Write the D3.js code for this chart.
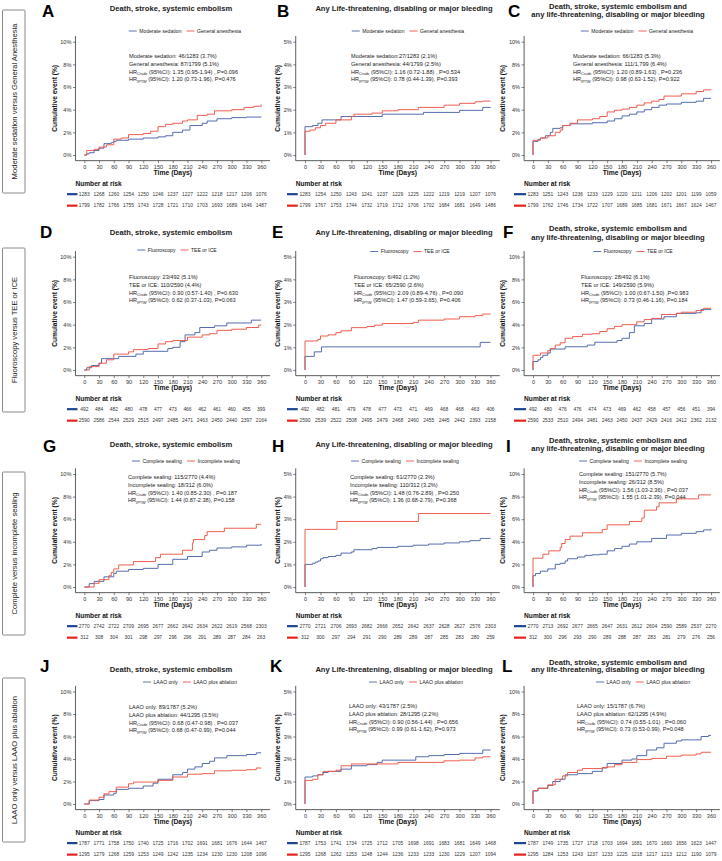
<!DOCTYPE html>
<html><head><meta charset="utf-8">
<script src="https://cdn.jsdelivr.net/npm/d3@7/dist/d3.min.js"></script>
<style>body{margin:0;background:#fff}svg{display:block;font-family:"Liberation Sans",Arial,sans-serif}</style>
</head><body><svg id="c" width="722" height="861"></svg>
<script>
// ---------- DATA ----------
const dayTicks = [0,30,60,90,120,150,180,210,240,270,300,330,360];
const yTicks10 = [0,2,4,6,8,10];
const yTicks5 = [0,1,2,3,4,5];
const rowLabels = ["Moderate sedation versus General Anesthesia","Fluoroscopy versus TEE or ICE","Complete versus incomplete sealing","LAAO only versus LAAO plus ablation"];
const panelLetters = ["A","B","C","D","E","F","G","H","I","J","K","L"];
const titleDeath = ["Death, stroke, systemic embolism"];
const titleBleed = ["Any Life-threatening, disabling or major bleeding"];
const titleComb = ["Death, stroke, systemic embolism and","any life-threatening, disabling or major bleeding"];
const groupNames = [["Moderate sedation","General anesthesia"],["Fluoroscopy","TEE or ICE"],["Complete sealing","Incomplete sealing"],["LAAO only","LAAO plus ablation"]];

const A_blue=[[0,0],[5,0.1],[10,0.2],[20,0.4],[30,0.6],[40,1.0],[55,1.1],[60,1.2],[65,1.3],[90,1.4],[120,1.5],[150,1.6],[165,1.7],[180,2.0],[200,2.2],[215,2.6],[240,2.8],[250,3.0],[270,3.2],[300,3.3],[330,3.35],[360,3.38]];
const A_red=[[0,0],[5,0.4],[20,0.5],[30,0.7],[45,0.9],[60,1.4],[75,1.5],[90,1.8],[120,1.9],[135,2.1],[150,2.5],[165,2.7],[180,2.8],[200,3.0],[210,3.1],[230,3.5],[250,3.6],[265,3.9],[300,4.0],[325,4.2],[345,4.3],[360,4.45]];
const B_blue=[[0,0],[0,1.25],[15,1.3],[25,1.4],[33,1.55],[70,1.7],[150,1.8],[230,1.88],[300,1.97],[345,2.1],[360,2.12]];
const B_red=[[0,0],[0,1.05],[10,1.1],[20,1.2],[30,1.3],[40,1.4],[60,1.55],[90,1.7],[95,1.8],[130,1.85],[150,1.95],[180,2.0],[220,2.1],[270,2.2],[300,2.28],[330,2.35],[345,2.38],[360,2.38]];
const C_blue=[[0,0],[0,1.2],[10,1.35],[15,1.5],[25,1.7],[35,2.0],[40,2.35],[55,2.4],[60,2.6],[75,2.75],[120,2.85],[150,3.0],[165,3.2],[180,3.45],[195,3.6],[210,3.8],[225,4.0],[240,4.2],[255,4.4],[270,4.5],[300,4.65],[330,4.75],[345,5.0],[360,5.0]];
const C_red=[[0,0],[0,1.3],[15,1.5],[30,1.7],[45,2.0],[55,2.2],[60,2.6],[75,2.8],[90,3.1],[120,3.2],[135,3.4],[150,3.8],[165,3.95],[180,4.05],[195,4.2],[210,4.4],[225,4.6],[240,4.75],[255,4.9],[265,5.2],[300,5.4],[330,5.6],[345,5.75],[360,5.8]];
const D_blue=[[0,0],[5,0.2],[15,0.4],[30,0.6],[35,1.0],[70,1.2],[105,1.4],[120,1.65],[170,1.9],[180,2.0],[195,2.5],[205,3.1],[225,3.3],[235,3.75],[265,3.9],[290,4.15],[340,4.4],[360,4.4]];
const D_red=[[0,0],[10,0.3],[30,0.6],[45,0.9],[60,1.4],[90,1.6],[100,1.8],[130,1.9],[150,2.3],[165,2.5],[180,2.6],[210,2.9],[240,3.1],[255,3.2],[270,3.5],[300,3.6],[330,3.75],[355,3.97],[360,3.97]];
const E_blue=[[0,0],[0,0.6],[18,0.8],[32,1.02],[340,1.22],[360,1.22]];
const E_red=[[0,0],[0,1.28],[25,1.35],[30,1.5],[45,1.55],[60,1.65],[70,1.73],[90,1.87],[120,1.92],[135,1.98],[150,2.05],[210,2.1],[220,2.2],[270,2.25],[300,2.35],[330,2.4],[345,2.47],[360,2.47]];
const F_blue=[[0,0],[0,0.75],[10,0.9],[15,1.1],[20,1.3],[30,1.5],[35,1.85],[65,2.05],[110,2.2],[125,2.45],[170,2.6],[180,2.8],[195,3.3],[205,3.9],[225,4.1],[240,4.5],[265,4.7],[290,5.0],[330,5.05],[340,5.35],[360,5.4]];
const F_red=[[0,0],[0,1.3],[15,1.5],[30,1.7],[35,1.9],[45,2.2],[55,2.4],[65,2.8],[80,2.95],[100,3.15],[120,3.2],[135,3.4],[150,3.65],[165,3.85],[180,4.0],[210,4.25],[225,4.45],[240,4.55],[260,4.9],[290,5.0],[300,5.1],[330,5.25],[345,5.45],[360,5.45]];
const G_blue=[[0,0],[10,0.3],[20,0.5],[40,0.9],[60,1.2],[65,1.4],[90,1.55],[120,1.65],[150,2.0],[180,2.45],[210,2.7],[240,3.1],[255,3.25],[270,3.45],[300,3.55],[330,3.7],[360,3.8]];
const G_red=[[0,0],[20,0.33],[30,0.65],[50,1.0],[55,1.3],[60,1.6],[70,1.95],[100,2.25],[145,2.6],[155,2.9],[200,3.25],[220,3.9],[222,4.2],[245,4.55],[250,4.9],[285,5.2],[350,5.55],[360,5.55]];
const H_blue=[[0,0],[0,1.0],[15,1.05],[20,1.1],[25,1.15],[30,1.25],[35,1.3],[45,1.35],[60,1.4],[70,1.5],[90,1.55],[95,1.65],[130,1.7],[140,1.75],[180,1.8],[210,1.85],[240,1.9],[270,1.95],[300,2.0],[320,2.05],[340,2.15],[360,2.15]];
const H_red=[[0,0],[0,2.55],[62,2.9],[220,3.25],[360,3.25]];
const I_blue=[[0,0],[0,1.0],[5,1.2],[15,1.4],[30,1.6],[45,2.0],[55,2.1],[65,2.3],[70,2.5],[90,2.65],[105,2.8],[120,2.85],[135,2.9],[150,3.2],[165,3.4],[180,3.6],[195,3.8],[210,4.0],[240,4.3],[270,4.6],[300,4.75],[330,4.9],[345,5.05],[360,5.15]];
const I_red=[[0,0],[0,2.55],[20,2.9],[32,3.2],[55,3.5],[58,3.85],[65,4.2],[75,4.5],[100,4.8],[140,5.1],[150,5.5],[195,5.8],[220,6.1],[225,6.8],[250,7.1],[255,7.45],[290,7.8],[335,8.15],[360,8.15]];
const J_blue=[[0,0],[10,0.3],[30,0.4],[40,0.8],[60,0.95],[65,1.3],[90,1.4],[120,1.6],[140,1.85],[150,2.2],[180,2.6],[200,2.8],[210,3.1],[225,3.3],[240,3.6],[255,3.8],[265,4.1],[290,4.3],[330,4.4],[350,4.55],[360,4.55]];
const J_red=[[0,0],[10,0.35],[30,0.6],[40,0.9],[50,1.1],[65,1.5],[90,1.8],[100,1.95],[150,2.1],[180,2.4],[210,2.65],[240,2.7],[265,2.95],[300,3.0],[330,3.05],[350,3.2],[360,3.2]];
const K_blue=[[0,0],[0,1.2],[15,1.25],[25,1.3],[35,1.4],[45,1.45],[70,1.55],[90,1.7],[120,1.75],[140,1.85],[150,1.95],[215,2.1],[240,2.15],[270,2.2],[300,2.25],[345,2.4],[360,2.4]];
const K_red=[[0,0],[0,1.05],[15,1.1],[25,1.3],[35,1.45],[60,1.5],[70,1.7],[90,1.78],[180,1.85],[270,1.92],[300,1.95],[330,2.05],[345,2.1],[360,2.1]];
const L_blue=[[0,0],[0,1.15],[10,1.4],[30,1.65],[40,2.0],[55,2.2],[65,2.6],[90,2.7],[120,2.9],[140,3.2],[150,3.6],[180,3.9],[200,4.0],[210,4.3],[230,4.8],[250,5.0],[265,5.4],[290,5.6],[300,5.7],[340,6.0],[355,6.1],[360,6.1]];
const L_red=[[0,0],[0,1.2],[10,1.4],[30,1.7],[45,2.2],[60,2.5],[70,2.8],[90,3.0],[100,3.15],[140,3.25],[150,3.3],[165,3.5],[180,3.7],[210,3.95],[240,4.05],[270,4.25],[300,4.35],[330,4.45],[340,4.6],[360,4.6]];

const A_riskBlue=[1283,1268,1260,1254,1250,1246,1237,1227,1222,1218,1217,1206,1076];
const A_riskRed=[1799,1782,1766,1755,1743,1728,1721,1710,1703,1693,1689,1646,1487];
const B_riskBlue=[1283,1254,1250,1243,1241,1237,1229,1225,1222,1219,1219,1207,1076];
const B_riskRed=[1799,1767,1753,1744,1732,1719,1712,1706,1702,1684,1681,1649,1486];
const C_riskBlue=[1283,1251,1243,1236,1233,1229,1220,1211,1206,1202,1201,1199,1059];
const C_riskRed=[1799,1762,1746,1734,1722,1707,1689,1685,1681,1671,1667,1624,1467];
const D_riskBlue=[492,484,482,480,478,477,473,466,462,461,460,455,399];
const D_riskRed=[2590,2586,2544,2529,2515,2497,2485,2471,2463,2450,2440,2397,2164];
const E_riskBlue=[492,482,481,479,478,477,473,471,469,468,468,463,406];
const E_riskRed=[2590,2539,2522,2508,2495,2479,2468,2460,2455,2445,2442,2393,2158];
const F_riskBlue=[492,480,476,476,474,473,469,462,458,457,456,451,394];
const F_riskRed=[2590,2533,2510,2494,2481,2463,2450,2437,2429,2416,2412,2362,2132];
const G_riskBlue=[2770,2742,2722,2709,2695,2677,2662,2642,2634,2622,2619,2568,2303];
const G_riskRed=[312,308,304,301,298,297,296,296,291,289,287,284,263];
const H_riskBlue=[2770,2721,2706,2693,2682,2666,2652,2642,2637,2628,2627,2576,2303];
const H_riskRed=[312,300,297,294,291,290,289,289,287,285,283,280,259];
const I_riskBlue=[2770,2713,2692,2677,2665,2647,2631,2612,2604,2590,2589,2537,2270];
const I_riskRed=[312,300,296,293,290,289,288,287,283,281,279,276,256];
const J_riskBlue=[1787,1771,1758,1750,1740,1725,1716,1702,1691,1681,1676,1644,1467];
const J_riskRed=[1295,1279,1268,1259,1253,1249,1242,1235,1234,1230,1230,1208,1096];
const K_riskBlue=[1787,1753,1741,1734,1725,1712,1705,1698,1691,1683,1681,1649,1468];
const K_riskRed=[1295,1268,1262,1253,1248,1244,1236,1233,1233,1230,1229,1207,1094];
const L_riskBlue=[1787,1749,1735,1727,1718,1703,1694,1681,1670,1660,1656,1623,1447];
const L_riskRed=[1295,1284,1253,1243,1237,1233,1225,1218,1217,1213,1212,1190,1079];

// annotation lines: [groupLine1, groupLine2, crudeHR, iptwHR]
const A_note=["Moderate sedation: 46/1283 (3.7%)","General anesthesia: 87/1799 (5.1%)","(95%CI): 1.35 (0.95-1.94) , P=0.096","(95%CI): 1.20 (0.73-1.96), P=0.476"];
const B_note=["Moderate sedation:27/1283 (2.1%)","General anesthesia: 44/1799 (2.5%)","(95%CI): 1.16 (0.72-1.88) , P=0.534","(95%CI): 0.78 (0.44-1.39), P=0.393"];
const C_note=["Moderate sedation: 66/1283 (5.3%)","General anesthesia: 111/1,799 (6.4%)","(95%CI): 1.20 (0.89-1.63) , P=0.236","(95%CI): 0.98 (0.63-1.52), P=0.922"];
const D_note=["Fluoroscopy: 23/492 (5.1%)","TEE or ICE: 110/2590 (4.4%)","(95%CI): 0.90 (0.57-1.40) , P=0.630","(95%CI): 0.62 (0.37-1.03), P=0.063"];
const E_note=["Fluoroscopy: 6/492 (1.2%)","TEE or ICE: 65/2590 (2.6%)","(95%CI): 2.09 (0.89-4.76) , P=0.090","(95%CI): 1.47 (0.59-3.65), P=0.406"];
const F_note=["Fluoroscopy: 28/492 (6.1%)","TEE or ICE: 149/2590 (5.9%)","(95%CI): 1.00 (0.67-1.50) ,P=0.983"," (95%CI): 0.73 (0.46-1.16), P=0.184"];
const G_note=["Complete sealing: 115/2770 (4.4%)","Incomplete sealing: 18/312 (6.0%)","(95%CI): 1.40 (0.85-2.30) , P=0.187","(95%CI): 1.44 (0.87-2.38), P=0.158"];
const H_note=["Complete sealing: 61/2770 (2.3%)","Incomplete sealing: 110/312 (3.2%)","(95%CI): 1.48 (0.76-2.89) , P=0.250","(95%CI): 1.36 (0.68-2.79), P=0.368"];
const I_note=["Complete sealing: 151/2770 (5.7%)","Incomplete sealing: 26/312 (8.5%)","(95%CI): 1.56 (1.03-2.36) , P=0.037","(95%CI): 1.55 (1.01-2.39), P=0.044"];
const J_note=["LAAO only: 89/1787 (5.2%)","LAAO plus ablation: 44/1295 (3.5%)","(95%CI): 0.68 (0.47-0.98) , P=0.037","(95%CI): 0.68 (0.47-0.99), P=0.044"];
const K_note=["LAAO only: 43/1787 (2.5%)","LAAO plus ablation: 28/1295 (2.2%)","(95%CI): 0.90 (0.56-1.44) , P=0.656","(95%CI): 0.99 (0.61-1.62), P=0.973"];
const L_note=["LAAO only: 15/1787 (6.7%)","LAAO plus ablation: 62/1295 (4.9%)","(95%CI): 0.74 (0.55-1.01) , P=0.060","(95%CI): 0.73 (0.53-0.99), P=0.048"];

// ---------- LAYOUT ----------
const BLUE="#4c65aa", RED="#ef5447", BLUE_D="#1d4594", RED_D="#e4231d";
const cols=[{x0:84.3,x360:261.2,ytitle:57,title:171,risk0:67},{x0:305,x360:490.5,ytitle:280,title:404,risk0:287},{x0:533,x360:711,ytitle:505,title:618,risk0:514}];
const rows=[{y10:41.7,y0:155,letter:17,title:8,leg:31,box:[10,193]},
            {y10:256.7,y0:370,letter:238,title:232,leg:251.5,box:[248,412]},
            {y10:474,y0:587,letter:452,title:444,leg:461,box:[472,635]},
            {y10:691.5,y0:804,letter:672,title:669,leg:682,box:[678,842]}];
const legendCx=[185,408,637,177,410,633,186,405,633,190,416,643];
const letterX=[42,277,508,40,272,503,43,272,506,40,270,502];
const noteXY=[[129,56],[351,56],[573,56],[129,277],[354,277],[581,277],[128,477],[350,477],[579,474],[129,707],[349,706],[577,706]];
const titleTwo=[[6,14],[228,237],[440,448],[662,669.5]];

const curves=[[A_blue,A_red],[B_blue,B_red],[C_blue,C_red],[D_blue,D_red],[E_blue,E_red],[F_blue,F_red],[G_blue,G_red],[H_blue,H_red],[I_blue,I_red],[J_blue,J_red],[K_blue,K_red],[L_blue,L_red]];
const risks=[[A_riskBlue,A_riskRed],[B_riskBlue,B_riskRed],[C_riskBlue,C_riskRed],[D_riskBlue,D_riskRed],[E_riskBlue,E_riskRed],[F_riskBlue,F_riskRed],[G_riskBlue,G_riskRed],[H_riskBlue,H_riskRed],[I_riskBlue,I_riskRed],[J_riskBlue,J_riskRed],[K_riskBlue,K_riskRed],[L_riskBlue,L_riskRed]];
const notes=[A_note,B_note,C_note,D_note,E_note,F_note,G_note,H_note,I_note,J_note,K_note,L_note];

const svg=d3.select("#c");
svg.append("rect").attr("width",722).attr("height",861).attr("fill","#fff");

// row label boxes
rows.forEach((r,i)=>{
  svg.append("rect").attr("x",2.5).attr("y",r.box[0]).attr("width",22.5).attr("height",r.box[1]-r.box[0])
    .attr("fill","none").attr("stroke","#8a8a8a").attr("stroke-width",1).attr("rx",1);
  svg.append("text").attr("transform",`translate(16.5,${(r.box[0]+r.box[1])/2}) rotate(-90)`)
    .attr("text-anchor","middle").attr("font-size",7.6).attr("fill","#222").text(rowLabels[i]);
});

for(let p=0;p<12;p++){
  const ri=Math.floor(p/3), ci=p%3, r=rows[ri], c=cols[ci];
  const five=(ci===1);
  const ymax=five?5:10;
  const x=d3.scaleLinear().domain([0,360]).range([c.x0,c.x360]);
  const y=d3.scaleLinear().domain([0,ymax]).range([r.y0,r.y10]);
  const xl=x(-18), xr=x(378), yb=y(-ymax*0.05), yt=y(ymax*1.05);
  const g=svg.append("g");

  // letter
  g.append("text").attr("x",letterX[p]).attr("y",r.letter)
    .attr("font-size",17).attr("font-weight","bold").attr("fill","#000").text(panelLetters[p]);

  // title
  const tl= ci===0?titleDeath: ci===1?titleBleed: titleComb;
  if(tl.length===1){
    g.append("text").attr("x",c.title).attr("y",r.title).attr("dy","0.35em").attr("text-anchor","middle")
      .attr("font-size",7.6).attr("font-weight","bold").attr("fill","#222").text(tl[0]);
  } else {
    tl.forEach((t,k)=>g.append("text").attr("x",c.title).attr("y",titleTwo[ri][k]).attr("dy","0.35em").attr("text-anchor","middle")
      .attr("font-size",7.6).attr("font-weight","bold").attr("fill","#222").text(t));
  }

  // legend
  const lg=g.append("g");
  const names=groupNames[ri];
  let cx=0;
  names.forEach((n,k)=>{
    lg.append("line").attr("x1",cx).attr("x2",cx+8).attr("y1",0).attr("y2",0).attr("stroke",k?RED:BLUE).attr("stroke-width",0.9);
    cx+=10.5;
    const t=lg.append("text").attr("x",cx).attr("y",0).attr("dy","0.35em").attr("font-size",5.1).attr("fill","#222").text(n);
    cx+=t.node().getComputedTextLength()+5;
  });
  const lw=cx-5;
  lg.attr("transform",`translate(${legendCx[p]-lw/2},${ri===1&&ci===0?r.leg-1.5:r.leg})`);

  // axes
  const yAxis=d3.axisLeft(y).tickValues(five?yTicks5:yTicks10).tickFormat(d=>d+"%").tickSize(2.5).tickPadding(1.5);
  const ya=g.append("g").attr("transform",`translate(${xl},0)`).call(yAxis);
  ya.select(".domain").remove();
  ya.append("line").attr("x1",0).attr("x2",0).attr("y1",yt).attr("y2",yb).attr("stroke","#333").attr("stroke-width",0.8);
  const xAxis=d3.axisBottom(x).tickValues(dayTicks).tickSize(2.5).tickPadding(1.5);
  const xa=g.append("g").attr("transform",`translate(0,${yb})`).call(xAxis);
  xa.select(".domain").remove();
  xa.append("line").attr("x1",xl).attr("x2",xr).attr("y1",0).attr("y2",0).attr("stroke","#333").attr("stroke-width",0.8);
  [ya,xa].forEach(a=>{a.selectAll("text").attr("font-size",5.6).attr("fill","#333").attr("font-family","Liberation Sans, Arial, sans-serif");
    a.selectAll(".tick line").attr("stroke","#333").attr("stroke-width",0.6);});

  // axis titles
  g.append("text").attr("transform",`translate(${c.ytitle},${(r.y0+r.y10)/2}) rotate(-90)`).attr("text-anchor","middle")
    .attr("font-size",6.6).attr("font-weight","bold").attr("fill","#111").text("Cumulative event (%)");
  g.append("text").attr("x",(xl+xr)/2).attr("y",yb+11.5).attr("dy","0.35em").attr("text-anchor","middle")
    .attr("font-size",6.8).attr("font-weight","bold").attr("fill","#111").text("Time (Days)");

  // curves
  const line=d3.line().x(d=>x(d[0])).y(d=>y(d[1])).curve(d3.curveStepAfter);
  curves[p].forEach((s,k)=>{
    g.append("path").attr("d",line(s)).attr("fill","none").attr("stroke",k?RED:BLUE).attr("stroke-width",0.95);
  });

  // annotation
  const nt=notes[p], nx=noteXY[p][0], ny=noteXY[p][1];
  nt.forEach((t,k)=>{
    const tx=g.append("text").attr("x",nx).attr("y",ny+k*7.8).attr("dy","0.35em").attr("font-size",5.6).attr("fill","#222");
    if(k<2){tx.text(t);}
    else{
      tx.append("tspan").text("HR");
      tx.append("tspan").attr("font-size",3.8).attr("dy",1.2).text(k===2?"Crude":"IPTW");
      tx.append("tspan").attr("dy",-1.2).text(" "+t);
    }
  });

  // number at risk
  g.append("text").attr("x",xl).attr("y",yb+23.5).attr("dy","0.35em").attr("font-size",6.6).attr("font-weight","bold").attr("fill","#111").text("Number at risk");
  risks[p].forEach((arr,k)=>{
    const ry=yb+33.5+k*11.5;
    g.append("line").attr("x1",c.risk0).attr("x2",xl+2).attr("y1",ry).attr("y2",ry).attr("stroke",k?RED_D:BLUE_D).attr("stroke-width",2.2);
    g.selectAll(null).data(arr).enter().append("text").attr("x",(d,i)=>x(dayTicks[i])).attr("y",ry).attr("dy","0.35em")
      .attr("text-anchor","middle").attr("font-size",4.9).attr("fill","#333").text(d=>d);
  });
}
</script></body></html>
